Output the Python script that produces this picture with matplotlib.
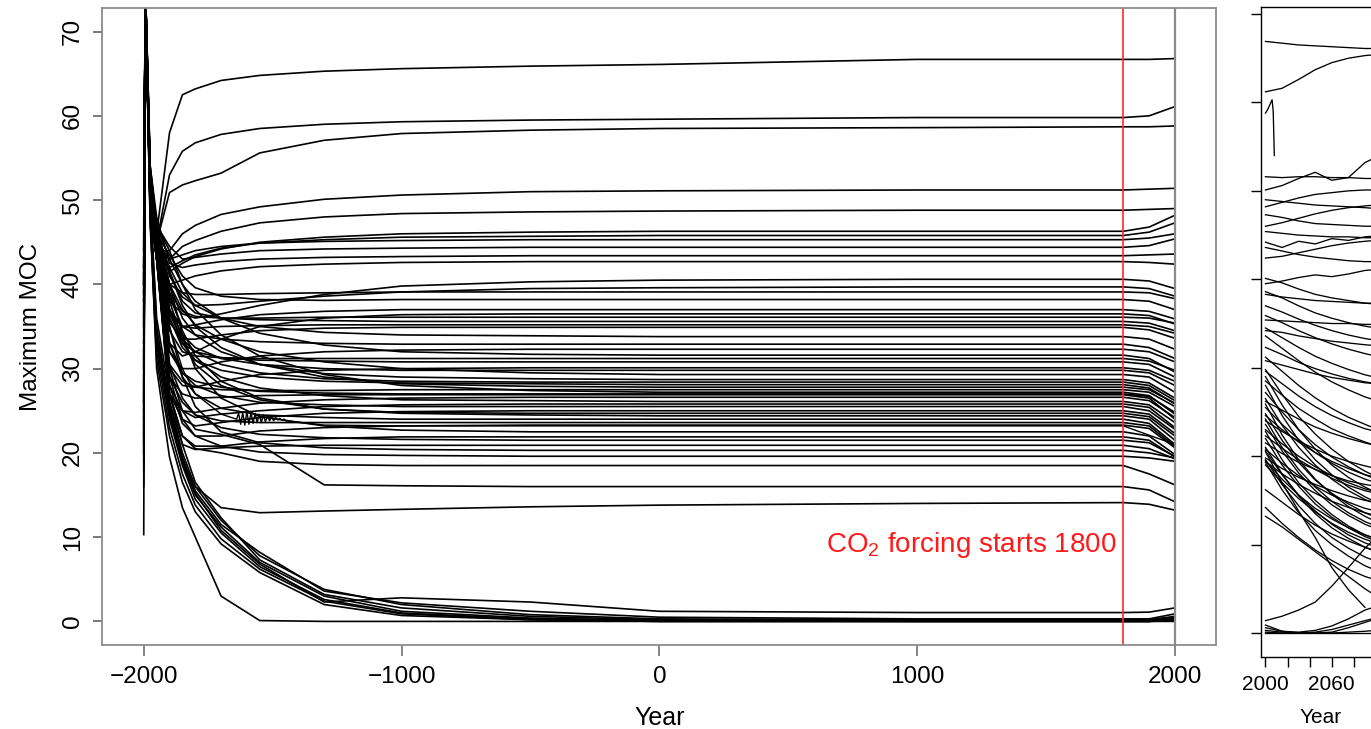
import numpy as np
import matplotlib
matplotlib.use('Agg')
import matplotlib.pyplot as plt

plt.rcParams['font.family'] = ['Liberation Sans', 'DejaVu Sans']
plt.rcParams['mathtext.fontset'] = 'custom'
plt.rcParams['mathtext.rm'] = 'Liberation Sans'

# spin-up runs: max MOC sampled at these model years
spin_years = [-2000, -1994, -1975, -1950, -1900, -1850, -1800, -1700, -1550,
              -1300, -1000, -500, 0, 1000, 1800, 1900, 2000]

upper_runs = [
    [40, 75, 52, 46, 58.0, 62.5, 63.2, 64.2, 64.8, 65.3, 65.6, 65.9, 66.1, 66.7, 66.7, 66.7, 66.8],
    [40, 76, 53, 45, 53.0, 55.8, 56.8, 57.8, 58.5, 59.0, 59.3, 59.5, 59.6, 59.8, 59.8, 60.0, 61.1],
    [41, 75, 52, 45, 50.9, 51.8, 52.3, 53.2, 55.6, 57.1, 57.9, 58.3, 58.5, 58.6, 58.7, 58.7, 58.8],
    [42, 74, 51, 44, 44.0, 46.0, 47.0, 48.3, 49.2, 50.1, 50.6, 51.0, 51.1, 51.2, 51.2, 51.3, 51.4],
    [39, 76, 52, 45, 43.0, 44.5, 45.2, 46.3, 47.3, 48.0, 48.4, 48.6, 48.7, 48.8, 48.8, 48.9, 49.0],
    [42, 76, 53, 46, 41.5, 42.5, 43.3, 44.2, 45.0, 45.6, 46.0, 46.2, 46.3, 46.3, 46.3, 46.8, 48.2],
    [38, 75, 51, 45, 42.0, 42.8, 43.5, 44.3, 44.9, 45.3, 45.6, 45.7, 45.8, 45.8, 45.8, 46.2, 47.3],
    [44, 75, 50, 44, 43.0, 43.5, 44.0, 44.5, 44.9, 45.1, 45.2, 45.3, 45.3, 45.3, 45.3, 45.5, 46.0],
    [35, 74, 52, 47, 44.5, 43.0, 43.2, 43.6, 44.0, 44.2, 44.3, 44.4, 44.4, 44.4, 44.4, 44.6, 45.4],
    [40, 76, 54, 48, 42.5, 42.0, 42.3, 42.7, 43.0, 43.2, 43.3, 43.4, 43.4, 43.4, 43.4, 43.5, 43.6],
    [30, 75, 49, 43, 40.0, 40.5, 41.0, 41.6, 42.1, 42.4, 42.6, 42.7, 42.7, 42.7, 42.7, 42.6, 42.4],
]

middle_runs = [
    [36, 75, 51, 45, 38.0, 36.5, 36.0, 36.5, 37.5, 38.8, 39.8, 40.3, 40.5, 40.6, 40.6, 40.4, 39.5],
    [41, 76, 53, 47, 41.0, 38.5, 37.5, 37.6, 38.0, 38.6, 39.1, 39.5, 39.6, 39.7, 39.7, 39.5, 38.6],
    [33, 74, 50, 45, 40.0, 39.0, 38.8, 38.8, 38.9, 39.0, 39.1, 39.1, 39.1, 39.1, 39.1, 39.0, 38.3],
    [45, 75, 52, 46, 43.5, 41.0, 39.6, 38.6, 38.2, 38.1, 38.2, 38.2, 38.2, 38.2, 38.2, 38.0, 37.0],
    [28, 75, 51, 44, 36.5, 35.0, 35.2, 35.8, 36.4, 36.8, 37.0, 37.0, 37.0, 37.0, 37.0, 36.8, 35.9],
    [39, 76, 54, 47, 39.0, 36.8, 36.2, 36.0, 36.0, 36.1, 36.1, 36.1, 36.1, 36.1, 36.1, 36.0, 35.4],
    [42, 75, 52, 46, 41.5, 38.0, 36.6, 36.0, 35.8, 35.7, 35.6, 35.6, 35.6, 35.6, 35.6, 35.4, 34.5],
    [31, 74, 49, 44, 35.5, 33.5, 33.5, 34.0, 34.5, 34.8, 34.9, 34.9, 34.9, 34.9, 34.9, 34.6, 33.6],
    [37, 75, 51, 45, 37.0, 35.0, 34.8, 35.0, 35.1, 35.2, 35.2, 35.2, 35.2, 35.2, 35.2, 35.0, 34.2],
    [26, 75, 50, 44, 33.0, 31.5, 32.0, 33.5, 35.0, 36.0, 36.4, 36.5, 36.5, 36.5, 36.5, 36.3, 35.3],
    [44, 75, 52, 46, 42.0, 39.0, 37.5, 36.0, 35.0, 34.3, 34.0, 33.9, 33.8, 33.8, 33.8, 33.5, 32.3],
    [40, 76, 53, 47, 38.5, 35.0, 34.0, 33.5, 33.2, 33.0, 32.9, 32.9, 32.9, 32.9, 32.9, 32.5, 31.2],
    [30, 74, 50, 44, 32.0, 30.0, 30.0, 30.8, 31.5, 32.0, 32.2, 32.3, 32.3, 32.3, 32.3, 32.0, 30.8],
    [46, 75, 53, 47, 43.0, 40.0, 38.0, 36.0, 34.2, 32.8, 32.0, 31.7, 31.6, 31.6, 31.6, 31.2, 29.6],
    [35, 75, 51, 45, 36.0, 33.0, 32.0, 31.3, 31.0, 30.9, 30.8, 30.8, 30.8, 30.8, 30.8, 30.5, 29.0],
    [27, 74, 49, 43, 30.0, 28.0, 27.8, 28.5, 29.3, 29.8, 30.0, 30.1, 30.1, 30.1, 30.1, 29.8, 28.5],
    [41, 76, 53, 46, 40.0, 37.0, 35.2, 33.5, 32.0, 30.8, 30.0, 29.5, 29.3, 29.3, 29.3, 29.0, 27.2],
    [33, 75, 50, 45, 34.5, 32.0, 31.5, 31.3, 31.2, 31.2, 31.2, 31.2, 31.2, 31.2, 31.2, 30.9, 29.8],
    [38, 75, 52, 46, 37.0, 34.0, 32.5, 31.2, 30.5, 30.0, 29.8, 29.8, 29.8, 29.8, 29.8, 29.5, 28.0],
]

dense_runs = [
    [43, 75, 52, 46, 40.0, 36.0, 34.0, 32.0, 30.5, 29.4, 29.0, 28.8, 28.7, 28.7, 28.7, 28.3, 26.5],
    [36, 76, 54, 47, 36.0, 32.5, 31.0, 29.8, 29.0, 28.5, 28.3, 28.2, 28.1, 28.1, 28.1, 27.7, 25.8],
    [29, 74, 50, 44, 30.5, 28.5, 27.8, 27.5, 27.4, 27.4, 27.5, 27.5, 27.5, 27.5, 27.5, 27.2, 25.5],
    [47, 75, 53, 47, 44.0, 40.0, 37.0, 34.0, 31.5, 29.3, 28.0, 27.4, 27.2, 27.2, 27.2, 26.8, 24.6],
    [25, 75, 49, 43, 27.0, 25.0, 24.8, 25.3, 25.9, 26.3, 26.5, 26.6, 26.6, 26.6, 26.6, 26.2, 24.2],
    [39, 74, 51, 45, 37.0, 33.0, 31.0, 29.0, 27.7, 26.8, 26.3, 26.2, 26.1, 26.1, 26.1, 25.7, 23.6],
    [34, 75, 52, 46, 33.0, 29.5, 28.0, 26.8, 26.0, 25.7, 25.5, 25.5, 25.5, 25.5, 25.5, 25.0, 22.8],
    [22, 76, 50, 44, 27.0, 24.0, 23.2, 23.6, 24.2, 24.7, 24.9, 25.0, 25.0, 25.0, 25.0, 24.6, 22.3],
    [42, 75, 53, 46, 39.0, 34.5, 31.5, 28.5, 26.5, 25.2, 24.7, 24.5, 24.4, 24.4, 24.4, 24.0, 21.5],
    [31, 75, 51, 45, 32.0, 29.5, 28.5, 27.8, 27.3, 27.1, 27.0, 27.0, 27.0, 27.0, 27.0, 26.7, 24.8],
    [45, 74, 52, 46, 41.5, 37.5, 35.0, 32.5, 30.5, 29.0, 28.2, 27.9, 27.8, 27.8, 27.8, 27.5, 25.9],
    [28, 75, 50, 44, 29.0, 27.0, 26.5, 26.6, 26.8, 26.9, 26.9, 26.9, 26.9, 26.9, 26.9, 26.5, 24.0],
    [37, 76, 53, 47, 36.5, 33.5, 32.0, 30.5, 29.5, 28.8, 28.5, 28.4, 28.4, 28.4, 28.4, 28.0, 26.2],
    [24, 75, 49, 43, 28.0, 25.0, 24.2, 24.6, 25.0, 25.5, 25.7, 25.8, 25.8, 25.8, 25.8, 25.4, 23.0],
    [40, 75, 52, 46, 38.0, 33.5, 30.5, 28.0, 26.3, 25.2, 24.8, 24.7, 24.7, 24.7, 24.7, 24.3, 22.0],
    [35, 75, 51, 45, 33.0, 29.0, 27.0, 25.3, 24.5, 24.2, 24.0, 24.0, 24.0, 24.0, 24.0, 23.5, 21.0],
    [23, 74, 50, 44, 28.0, 23.5, 22.0, 22.0, 22.6, 23.0, 23.2, 23.3, 23.3, 23.3, 23.3, 22.9, 20.6],
    [44, 76, 53, 47, 40.0, 34.0, 30.0, 26.5, 24.3, 23.2, 22.7, 22.5, 22.5, 22.5, 22.5, 22.0, 19.8],
    [20, 75, 49, 43, 27.0, 22.0, 20.8, 20.8, 21.3, 21.7, 21.9, 21.9, 21.9, 21.9, 21.9, 21.5, 19.5],
    [32, 75, 51, 45, 30.5, 26.5, 24.5, 23.0, 22.2, 21.8, 21.6, 21.5, 21.5, 21.5, 21.5, 21.2, 19.6],
    [18, 74, 50, 44, 26.0, 21.0, 20.4, 20.6, 20.8, 20.9, 20.9, 20.9, 20.9, 20.9, 20.9, 20.5, 19.3],
    [38, 76, 52, 46, 35.0, 29.0, 25.5, 22.5, 21.2, 20.6, 20.4, 20.3, 20.3, 20.3, 20.3, 20.0, 19.4],
    [26, 75, 50, 44, 29.0, 24.0, 22.0, 20.8, 20.1, 19.8, 19.7, 19.6, 19.6, 19.6, 19.6, 19.4, 19.0],
    [21, 75, 49, 43, 27.0, 22.0, 20.5, 20.0, 19.0, 18.6, 18.5, 18.5, 18.5, 18.5, 18.5, 17.5, 16.2],
    [30, 74, 51, 45, 29.0, 26.0, 24.5, 23.8, 23.6, 23.6, 23.6, 23.6, 23.6, 23.6, 23.6, 23.2, 20.8],
]

lower_runs = [
    [25, 75, 50, 44, 30.0, 25.0, 22.8, 22.2, 21.0, 16.2, 16.1, 16.0, 16.0, 16.0, 16.0, 15.6, 14.2],
    [19, 75, 49, 43, 26.0, 19.0, 16.0, 13.5, 12.9, 13.1, 13.3, 13.6, 13.8, 14.0, 14.1, 13.9, 13.2],
]

collapsed_runs = [
    [16, 75, 48, 30, 19.5, 13.5, 10.0, 3.0, 0.1, 0.0, 0.0, 0.0, 0.0, 0.0, 0.0, 0.0, 0.1],
    [22, 75, 49, 34, 25.0, 19.0, 15.0, 11.2, 7.0, 3.0, 1.2, 0.4, 0.1, 0.0, 0.0, 0.0, 0.3],
    [24, 74, 48, 33, 24.0, 18.5, 14.5, 10.5, 6.5, 2.6, 1.0, 0.3, 0.1, 0.1, 0.1, 0.1, 0.4],
    [20, 76, 50, 35, 26.0, 20.0, 16.0, 12.0, 7.8, 3.8, 2.0, 0.8, 0.3, 0.2, 0.2, 0.2, 0.6],
    [27, 75, 49, 34, 25.5, 19.5, 15.5, 11.5, 8.2, 3.6, 2.2, 1.2, 0.5, 0.3, 0.3, 0.3, 0.9],
    [23, 75, 47, 32, 23.0, 17.5, 13.8, 9.8, 6.2, 2.4, 0.9, 0.2, 0.0, 0.0, 0.0, 0.0, 0.2],
    [26, 74, 50, 36, 27.0, 21.0, 16.5, 12.3, 7.3, 3.2, 1.6, 0.6, 0.2, 0.1, 0.1, 0.1, 0.5],
    [10.3, 76, 49, 33, 24.5, 18.8, 15.2, 10.8, 6.8, 2.3, 2.8, 2.3, 1.2, 1.05, 1.05, 1.1, 1.6],
    [21, 75, 48, 31, 22.0, 16.5, 13.0, 9.2, 5.8, 2.0, 0.7, 0.2, 0.0, 0.0, 0.0, 0.0, 0.0],
]

# one run with a noisy stretch early in the spin-up
osc_years = [-2000, -1994, -1975, -1950, -1900, -1850, -1800, -1700, -1640, -1632, -1624,
             -1616, -1608, -1600, -1592, -1584, -1576, -1568, -1560, -1552, -1544, -1536,
             -1528, -1520, -1512, -1504, -1496, -1488, -1480, -1472, -1464, -1456, -1448,
             -1300, -1000, 0, 1800, 2000]
osc_vals = [38, 75, 51, 45, 35, 30, 27, 24.6, 24.0, 24.7, 23.4, 24.8, 23.3, 24.9, 23.4,
            24.8, 23.5, 24.7, 23.6, 24.6, 23.6, 24.5, 23.7, 24.4, 23.8, 24.3, 23.8, 24.2,
            23.9, 24.1, 23.9, 24.0, 23.8, 23.3, 23.2, 23.2, 23.2, 21.0]

# 21st century scenario runs
scen_years = [2000, 2015, 2030, 2045, 2060, 2075, 2090, 2100]

scen_upper = [
    [66.9, 66.7, 66.5, 66.4, 66.3, 66.2, 66.1, 66.1],
    [61.2, 61.6, 62.6, 63.7, 64.5, 65.0, 65.3, 65.4],
    [51.6, 51.5, 51.6, 51.6, 51.5, 51.5, 51.4, 51.4],
    [50.1, 50.6, 51.4, 52.1, 51.2, 51.5, 53.2, 53.8],
    [49.0, 48.8, 48.6, 48.4, 48.3, 48.2, 48.1, 48.0],
    [48.2, 48.7, 49.2, 49.6, 49.8, 50.0, 50.1, 50.1],
    [47.3, 47.0, 46.6, 46.3, 46.2, 46.1, 46.0, 46.0],
    [46.0, 46.4, 46.9, 47.4, 47.8, 48.1, 48.3, 48.4],
    [45.4, 45.2, 45.0, 44.9, 44.8, 44.8, 44.7, 44.7],
    [44.2, 43.6, 44.3, 44.0, 44.6, 44.4, 44.8, 44.9],
    [43.6, 43.2, 42.8, 42.5, 42.3, 42.1, 42.0, 42.0],
    [42.4, 42.6, 43.0, 43.4, 43.8, 44.1, 44.3, 44.4],
]

scen_middle = [
    [40.1, 39.6, 38.9, 38.3, 37.9, 37.6, 37.3, 37.2],
    [39.5, 39.8, 40.2, 40.5, 40.3, 40.6, 41.0, 41.1],
    [38.6, 37.9, 37.0, 36.2, 35.6, 35.1, 34.7, 34.5],
    [38.3, 38.0, 37.8, 37.6, 37.5, 37.4, 37.3, 37.3],
    [37.0, 36.3, 35.5, 34.8, 34.2, 33.7, 33.3, 33.1],
    [35.9, 35.1, 34.2, 33.4, 32.7, 32.1, 31.6, 31.3],
    [35.4, 35.3, 35.2, 35.1, 35.0, 35.0, 34.9, 34.9],
    [34.5, 33.4, 32.3, 31.3, 30.5, 29.8, 29.2, 28.9],
    [34.2, 34.0, 33.6, 33.3, 33.0, 32.8, 32.6, 32.5],
    [33.6, 32.2, 30.8, 29.5, 28.4, 27.5, 26.7, 26.3],
    [32.3, 31.5, 30.6, 29.9, 29.3, 28.8, 28.4, 28.2],
    [31.2, 29.6, 28.0, 26.6, 25.4, 24.4, 23.6, 23.1],
    [30.8, 30.3, 29.8, 29.3, 28.9, 28.6, 28.3, 28.2],
]

scen_dense = [
    [29.8, 27.0, 24.5, 22.5, 20.8, 19.4, 18.3, 17.7],
    [29.6, 28.2, 26.8, 25.6, 24.6, 23.8, 23.1, 22.8],
    [29.0, 25.8, 23.0, 20.8, 19.0, 17.6, 16.5, 15.9],
    [28.5, 26.9, 25.4, 24.2, 23.1, 22.3, 21.6, 21.2],
    [28.0, 24.6, 21.8, 19.6, 17.9, 16.5, 15.4, 14.8],
    [27.2, 25.0, 23.0, 21.3, 19.9, 18.8, 17.9, 17.4],
    [26.5, 23.5, 21.0, 19.0, 17.4, 16.1, 15.1, 14.6],
    [26.2, 25.2, 24.2, 23.3, 22.6, 22.0, 21.5, 21.2],
    [25.9, 22.4, 19.6, 17.4, 15.7, 14.3, 13.2, 12.6],
    [25.5, 23.6, 21.9, 20.4, 19.2, 18.2, 17.4, 17.0],
    [24.8, 21.8, 19.3, 17.3, 15.8, 14.6, 13.6, 13.1],
    [24.6, 23.0, 21.6, 20.4, 19.4, 18.6, 17.9, 17.6],
    [24.2, 21.0, 18.5, 16.5, 14.9, 13.6, 12.6, 12.1],
    [24.0, 22.8, 21.7, 20.8, 20.0, 19.4, 18.9, 18.6],
    [23.6, 20.6, 18.1, 16.1, 14.5, 13.3, 12.3, 11.8],
    [23.0, 21.4, 20.0, 18.8, 17.8, 17.0, 16.3, 16.0],
    [22.8, 19.6, 17.0, 15.0, 13.4, 12.1, 11.1, 10.6],
    [22.3, 20.9, 19.6, 18.5, 17.5, 16.7, 16.1, 15.8],
    [22.0, 19.0, 16.6, 14.6, 13.1, 11.9, 10.9, 10.4],
    [21.5, 20.3, 19.3, 18.5, 17.8, 17.2, 16.8, 16.6],
    [21.0, 18.0, 15.5, 13.5, 11.9, 10.7, 9.7, 9.2],
    [20.8, 19.2, 17.8, 16.6, 15.6, 14.8, 14.1, 13.8],
    [20.6, 17.9, 15.6, 13.8, 12.3, 11.1, 10.2, 9.7],
    [20.5, 17.0, 13.8, 10.8, 7.4, 4.9, 2.9, np.nan],
    [19.8, 18.6, 17.6, 16.8, 16.1, 15.5, 15.0, 14.8],
    [19.6, 16.8, 14.4, 12.4, 10.8, 9.6, 8.6, 8.1],
    [19.5, 17.4, 15.6, 14.1, 12.9, 11.9, 11.1, 10.7],
    [19.4, 18.0, 16.8, 15.8, 14.9, 14.2, 13.6, 13.3],
    [19.3, 16.2, 13.6, 11.6, 10.0, 8.7, 7.6, 7.1],
    [19.0, 17.0, 15.2, 13.7, 12.4, 11.4, 10.6, 10.2],
]

scen_lower = [
    [16.2, 14.8, 13.4, 12.2, 11.2, 10.4, 9.7, 9.3],
    [14.2, 12.4, 10.8, 9.4, 8.2, 7.2, 6.4, 6.0],
    [13.2, 12.0, 10.6, 9.2, 7.8, 6.4, 5.0, 4.2],
    [1.4, 1.9, 2.6, 3.5, 5.3, 7.4, 9.6, 10.8],
    [0.6, 0.2, 0.0, 0.0, 0.1, 0.6, 1.2, 1.6],
    [0.3, 0.1, 0.0, 0.1, 0.4, 0.9, 1.4, 1.7],
    [0.1, 0.0, 0.0, 0.0, 0.0, 0.1, 0.2, 0.3],
    [0.9, 0.2, 0.1, 0.3, 0.8, 1.6, 2.6, 3.0],
    [0.0, 0.0, 0.0, 0.0, 0.0, 0.0, 0.0, 0.0],
]

# run that stops a few years into the century
short_years = [2000, 2002, 2006, 2007, 2008]
short_vals = [58.8, 59.2, 60.3, 59.0, 54.0]

fig = plt.figure(figsize=(13.71, 7.29), dpi=100)

# --- spin-up panel ---
ax = fig.add_axes([0.07476, 0.11523, 0.8123, 0.8738])
for group in (upper_runs, middle_runs, dense_runs, lower_runs, collapsed_runs):
    for run in group:
        ax.plot(spin_years, run, color='black', lw=1.2)
ax.plot(osc_years, osc_vals, color='black', lw=1.0)

ax.axvline(1800, color='#ff2a2a', lw=1.2)
ax.axvline(2000, color='#8a8a8a', lw=1.6)
ax.text(1775, 8.2, r'CO$_2$ forcing starts 1800', color='#ff1a1a',
        fontsize=20, ha='right', va='baseline')

ax.set_xlim(-2160, 2160)
ax.set_ylim(-2.8, 72.8)
ax.set_xticks([-2000, -1000, 0, 1000, 2000])
ax.set_yticks(range(0, 71, 10))
for sp in ax.spines.values():
    sp.set_color('#8c8c8c')
    sp.set_linewidth(1.3)
ax.tick_params(axis='x', length=8, width=1.1, color='#666666', labelsize=17.5, pad=7)
ax.tick_params(axis='y', length=6.5, width=1.1, color='#555555', labelsize=17.5, pad=7,
               labelrotation=90)
for lab in ax.get_yticklabels():
    lab.set_va('center')
ax.get_xticklines()[-2].set_color('#8a8a8a')
ax.set_xlabel('Year', fontsize=18, labelpad=13)
ax.set_ylabel('Maximum MOC', fontsize=17.5, labelpad=14)

# --- scenario panel ---
ax2 = fig.add_axes([0.9198, 0.09877, 0.0871, 0.8916])
for group in (scen_upper, scen_middle, scen_dense, scen_lower):
    for run in group:
        ax2.plot(scen_years, run, color='black', lw=0.95)
ax2.plot(short_years, short_vals, color='black', lw=0.95)

ax2.set_xlim(1996, 2104)
ax2.set_ylim(-2.71, 70.79)
ax2.set_xticks(range(2000, 2101, 20))
ax2.set_xticklabels(['2000', '', '', '2060', '', ''])
ax2.set_yticks(range(0, 71, 10))
ax2.set_yticklabels([])
for sp in ax2.spines.values():
    sp.set_linewidth(1.0)
ax2.tick_params(axis='both', length=7, width=1.0, labelsize=15, pad=6)
ax2.set_xlabel('Year', fontsize=15, labelpad=10)

fig.savefig('out.png', dpi=100)
